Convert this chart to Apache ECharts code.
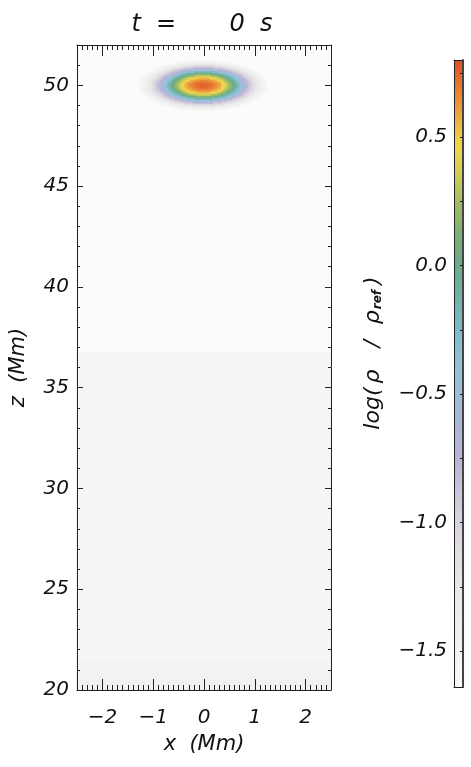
<!DOCTYPE html>
<html>
<head>
<meta charset="utf-8">
<script src="https://cdn.jsdelivr.net/npm/echarts@6/dist/echarts.min.js"></script>
<style>
  html, body { margin: 0; padding: 0; background: #fff; }
  #chart { width: 471px; height: 767px; }
</style>
</head>
<body>
<div id="chart"></div>
<script>
// tick labels
const xTicks = [-2, -1, 0, 1, 2]
const zTicks = [20, 25, 30, 35, 40, 45, 50]
const cbTicks = [-1.5, -1.0, -0.5, 0.0, 0.5]
const cbMinorTicks = [-1.5, -1.25, -1.0, -0.75, -0.5, -0.25, 0, 0.25, 0.5, 0.75]
const cbRange = [-1.64, 0.8]

// blob: log(rho/rho_ref) against distance from its centre (Mm)
const blobCenter = [0, 50]
const blobRadius = [0, 0.05, 0.1, 0.15, 0.2, 0.25, 0.3, 0.35, 0.4, 0.45, 0.5, 0.55, 0.6,
  0.65, 0.7, 0.75, 0.8, 0.85, 0.9, 0.95, 1.0, 1.05, 1.1, 1.15, 1.2, 1.25]
const blobLogRho = [0.76, 0.755, 0.74, 0.72, 0.69, 0.66, 0.61, 0.55, 0.47, 0.38, 0.27, 0.15, 0.02,
  -0.12, -0.27, -0.42, -0.58, -0.73, -0.88, -1.02, -1.15, -1.27, -1.38, -1.47, -1.54, -1.59]

// background layers: lower edge in z (Mm) and log(rho/rho_ref)
const layerZ = [20.0, 20.5, 21.0, 21.5, 36.8]
const layerLogRho = [-1.48, -1.50, -1.52, -1.55, -1.64]

// colour table, evenly spread from cbRange[0] to cbRange[1]
const cmap = ['#fcfbfa', '#f3f3f3', '#efefef', '#ebeaeb', '#e6e2e6', '#e0dae1', '#d8d0de',
  '#c9c2da', '#b9b4d4', '#adb6d7', '#a2bbd9', '#94c2db', '#86bfd2', '#78b6ba', '#6eaf9f',
  '#6dab85', '#7fb172', '#a3bd62', '#cfcc55', '#f0d84c', '#eeaa40', '#e87d32', '#e04d26']

// cell grid of the map
const dx = 0.025, dz = 0.1
const nx = 200, nz = 320
const xCells = [], zCells = [], cells = []
for (let i = 0; i < nx; i++) xCells.push(String(i))
for (let j = 0; j < nz; j++) zCells.push(String(j))
for (let i = 0; i < nx; i++) {
  const x = -2.5 + dx * (i + 0.5)
  for (let j = 0; j < nz; j++) {
    const z = 20 + dz * (j + 0.5)
    let bg = layerLogRho[0]
    for (let k = 0; k < layerZ.length; k++) if (z >= layerZ[k]) bg = layerLogRho[k]
    const r = Math.hypot(x - blobCenter[0], z - blobCenter[1])
    const k = Math.round(r / 0.05)
    const v = k < blobRadius.length ? Math.max(blobLogRho[k], bg) : bg
    cells.push([i, j, v])
  }
}

const font = { fontFamily: 'DejaVu Sans', fontStyle: 'italic', fontSize: 20, color: '#111' }
const nameFont = Object.assign({}, font, { fontSize: 21 })
const minus = v => (v < 0 ? '\u2212' : '') + Math.abs(v)
const lineStyle = { color: '#222', width: 1 }

const chart = echarts.init(document.getElementById('chart'))

const plotX = (pos, major, extra) => Object.assign({
  type: 'value', gridIndex: 0, position: pos, min: -2.5, max: 2.5, z: 10,
  axisLine: { show: major, onZero: false, lineStyle },
  splitLine: { show: false },
  axisTick: major
    ? { inside: true, length: 11, customValues: xTicks, lineStyle }
    : { inside: true, length: 5, lineStyle },
  axisLabel: { show: false }
}, major ? {} : { interval: 0.1 }, extra || {})

const plotY = (pos, major, extra) => Object.assign({
  type: 'value', gridIndex: 0, position: pos, min: 20, max: 52, z: 10,
  axisLine: { show: major, onZero: false, lineStyle },
  splitLine: { show: false },
  axisTick: major
    ? { inside: true, length: 6, customValues: zTicks, lineStyle }
    : { inside: true, length: 3, lineStyle },
  axisLabel: { show: false }
}, major ? {} : { interval: 1 }, extra || {})

const cbLabelStyle = { fontFamily: 'DejaVu Sans', fontStyle: 'italic', fontSize: 22, fill: '#111' }

chart.setOption({
  animation: false,
  backgroundColor: '#fff',
  grid: [
    { left: 76, top: 45, width: 255, height: 645 },
    { left: 76, top: 45, width: 255, height: 645 },
    { left: 454, top: 60, width: 9, height: 627 }
  ],
  xAxis: [
    plotX('bottom', true, {
      axisLabel: Object.assign({ show: true, margin: 18, customValues: xTicks, formatter: minus }, font),
      name: 'x  (Mm)', nameLocation: 'middle', nameGap: 44, nameTextStyle: nameFont
    }),
    plotX('bottom', false),
    plotX('top', true),
    plotX('top', false),
    { type: 'category', gridIndex: 1, data: xCells, show: false },
    { type: 'value', gridIndex: 2, position: 'bottom', min: 0, max: 1, z: 10,
      axisLine: { onZero: false, lineStyle }, axisTick: { show: false }, axisLabel: { show: false }, splitLine: { show: false } },
    { type: 'value', gridIndex: 2, position: 'top', min: 0, max: 1, z: 10,
      axisLine: { onZero: false, lineStyle }, axisTick: { show: false }, axisLabel: { show: false }, splitLine: { show: false } }
  ],
  yAxis: [
    plotY('left', true, {
      axisLabel: Object.assign({ show: true, margin: 8, customValues: zTicks }, font),
      name: 'z  (Mm)', nameLocation: 'middle', nameGap: 48, nameRotate: 90, nameTextStyle: nameFont
    }),
    plotY('left', false),
    plotY('right', true),
    plotY('right', false),
    { type: 'category', gridIndex: 1, data: zCells, show: false },
    { type: 'value', gridIndex: 2, position: 'left', min: cbRange[0], max: cbRange[1], z: 10,
      axisLine: { onZero: false, lineStyle }, axisTick: { show: false }, splitLine: { show: false },
      axisLabel: Object.assign({ margin: 7, customValues: cbTicks,
        formatter: v => (v < 0 ? '\u2212' : '') + Math.abs(v).toFixed(1) }, font) },
    { type: 'value', gridIndex: 2, position: 'right', min: cbRange[0], max: cbRange[1], z: 10,
      axisLine: { onZero: false, lineStyle: { color: '#444', width: 2 } }, splitLine: { show: false },
      axisTick: { inside: true, length: 3, customValues: cbMinorTicks, lineStyle },
      axisLabel: { show: false } }
  ],
  visualMap: {
    type: 'continuous', seriesIndex: 0, min: cbRange[0], max: cbRange[1],
    left: 454, top: 60, itemWidth: 9, itemHeight: 627, padding: 0,
    calculable: false, hoverLink: false, text: null,
    inRange: { color: cmap }
  },
  graphic: [
    {
      type: 'text', x: 202, y: 25,
      style: { text: 't  =       0  s', fill: '#111', fontFamily: 'DejaVu Sans', fontStyle: 'italic',
        fontSize: 24, align: 'center', verticalAlign: 'middle' }
    },
    {
      type: 'text', x: 373, y: 353, rotation: Math.PI / 2,
      style: {
        text: '{lg|log(}{r1|\u03c1}{sl|/}{r2|\u03c1}{sub|ref}{cp|)}',
        align: 'center', verticalAlign: 'middle',
        rich: {
          lg: Object.assign({ padding: [0, 4, 0, 0] }, cbLabelStyle),
          r1: Object.assign({ padding: [0, 12, 0, 0] }, cbLabelStyle),
          sl: Object.assign({ padding: [0, 16, 0, 10] }, cbLabelStyle),
          r2: Object.assign({ padding: [0, 1, 0, 0] }, cbLabelStyle),
          sub: { fontFamily: 'DejaVu Sans', fontStyle: 'italic', fontWeight: 'bold', fontSize: 12,
            fill: '#111', verticalAlign: 'bottom', padding: [9, 0, 0, 0] },
          cp: Object.assign({ padding: [0, 0, 0, 5] }, cbLabelStyle)
        }
      }
    }
  ],
  series: [{
    type: 'heatmap', xAxisIndex: 4, yAxisIndex: 4, data: cells,
    progressive: 0, silent: true, emphasis: { disabled: true }
  }]
})
</script>
</body>
</html>
